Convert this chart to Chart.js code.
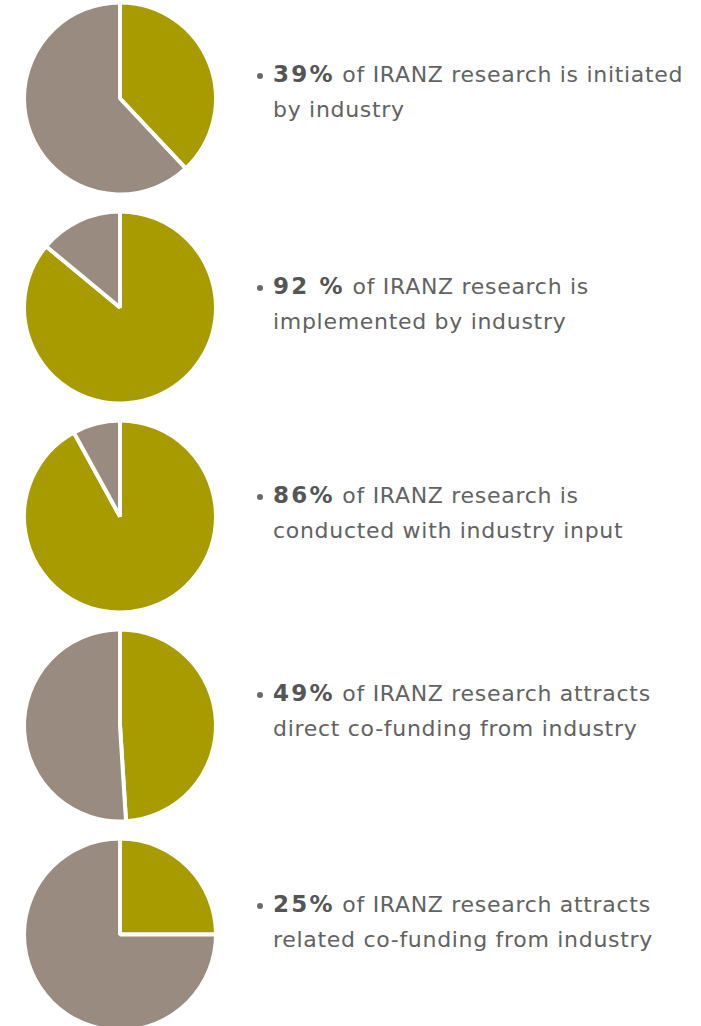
<!DOCTYPE html>
<html>
<head>
<meta charset="utf-8">
<script src="https://cdn.jsdelivr.net/npm/chart.js@4.4.1/dist/chart.umd.min.js"></script>
<style>
  html, body { margin: 0; padding: 0; background: #fff; }
  body { width: 701px; height: 1026px; overflow: hidden; position: relative; font-family: "DejaVu Sans", sans-serif; }
  #pies { position: absolute; left: 0; top: -6px; width: 240px; }
  .pie { width: 240px; height: 209px; position: relative; }
  .note { position: absolute; left: 273px; color: #626262; font-size: 22px; line-height: 35px; letter-spacing: 0.7px; white-space: nowrap; }
  .note::before { content: ""; position: absolute; left: -16px; top: 16px; width: 6px; height: 6px; border-radius: 50%; background: #6a6a6a; }
  .note b { font-weight: bold; font-size: 23px; color: #555; letter-spacing: 2.2px; }
  #notes .note:nth-child(1) { top: 57px; }
  #notes .note:nth-child(2) { top: 269px; }
  #notes .note:nth-child(3) { top: 478px; }
  #notes .note:nth-child(4) { top: 676px; }
  #notes .note:nth-child(5) { top: 887px; }
</style>
</head>
<body>
<div id="pies"></div>
<div id="notes"></div>
<script>
// share of research involving industry (olive slice), as drawn in each pie
const industryShare = [38, 86, 92, 49, 25];
const statLabels = ["39%", "92 %", "86%", "49%", "25%"];
const firstLines = [
  "of IRANZ research is initiated",
  "of IRANZ research is",
  "of IRANZ research is",
  "of IRANZ research attracts",
  "of IRANZ research attracts",
];
const secondLines = [
  "by industry",
  "implemented by industry",
  "conducted with industry input",
  "direct co-funding from industry",
  "related co-funding from industry",
];

const olive = "#a89b00";
const taupe = "#998b7f";

const piesEl = document.getElementById("pies");
const notesEl = document.getElementById("notes");

industryShare.forEach((share, i) => {
  const box = document.createElement("div");
  box.className = "pie";
  const canvas = document.createElement("canvas");
  box.appendChild(canvas);
  piesEl.appendChild(box);

  new Chart(canvas.getContext("2d"), {
    type: "pie",
    data: {
      labels: ["Industry", "Other"],
      datasets: [
        {
          data: [share, 100 - share],
          backgroundColor: [olive, taupe],
          borderColor: "#ffffff",
          borderWidth: 4,
          radius: 96,
        },
      ],
    },
    options: {
      responsive: true,
      maintainAspectRatio: false,
      animation: false,
      events: [],
      plugins: { legend: { display: false }, tooltip: { enabled: false } },
    },
  });

  const note = document.createElement("div");
  note.className = "note";
  const b = document.createElement("b");
  b.textContent = statLabels[i];
  note.appendChild(b);
  note.appendChild(document.createTextNode(" " + firstLines[i]));
  note.appendChild(document.createElement("br"));
  note.appendChild(document.createTextNode(secondLines[i]));
  notesEl.appendChild(note);
});
</script>
</body>
</html>
